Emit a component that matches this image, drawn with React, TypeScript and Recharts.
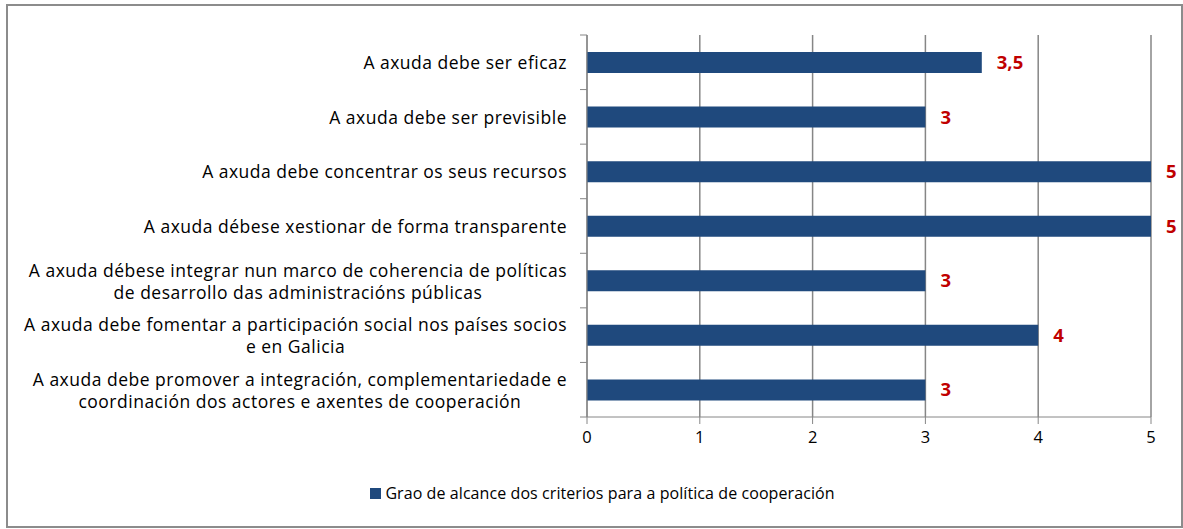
import React from "react";
import { Bar, BarChart, CartesianGrid, LabelList, Legend, XAxis, YAxis } from "recharts";

const criteria = [
  ["A axuda debe ser eficaz"],
  ["A axuda debe ser previsible"],
  ["A axuda debe concentrar os seus recursos"],
  ["A axuda débese xestionar de forma transparente"],
  ["A axuda débese integrar nun marco de coherencia de políticas", "de desarrollo das administracións públicas"],
  ["A axuda debe fomentar a participación social nos países socios", "e en Galicia"],
  ["A axuda debe promover a integración, complementariedade e", "coordinación dos actores e axentes de cooperación"]
];
const scores = [3.5, 3, 5, 5, 3, 4, 3];
const xTicks = [0, 1, 2, 3, 4, 5];
const seriesName = "Grao de alcance dos criterios para a política de cooperación";

const data = criteria.map((lines, i) => ({ name: lines.join("\n"), value: scores[i] }));

const FONT = "'Open Sans', sans-serif";
const BAR = "#1F497D";
const AXIS = "#868686";
const PLOT_H = 382;
const band = PLOT_H / data.length;
const LABEL_SIZE = 17.5;
const LABEL_LS = 0.5;

let ctx: CanvasRenderingContext2D | null = null;
function textWidth(s: string, font: string) {
  if (!ctx) ctx = document.createElement("canvas").getContext("2d");
  if (!ctx) return s.length * 8;
  ctx.font = font;
  return ctx.measureText(s).width + s.length * LABEL_LS;
}

function CriteriaTick(props: any) {
  const { x, y, payload, index } = props;
  const lines = String(payload.value).split("\n");
  const axisX = x + 20;
  const widest = Math.max(...lines.map((l) => textWidth(l, `${LABEL_SIZE}px ${FONT}`)));
  const cx = x - widest / 2;
  const lh = 22;
  const top = y - ((lines.length - 1) * lh) / 2;
  return (
    <g>
      <line x1={axisX - 7} x2={axisX} y1={y - band / 2} y2={y - band / 2} stroke={AXIS} />
      {index === data.length - 1 && (
        <line x1={axisX - 7} x2={axisX} y1={y + band / 2} y2={y + band / 2} stroke={AXIS} />
      )}
      <text
        x={cx}
        y={top}
        textAnchor="middle"
        dominantBaseline="central"
        fill="#000"
        fontSize={LABEL_SIZE}
        fontFamily={FONT}
        letterSpacing={LABEL_LS}
      >
        {lines.map((l, i) => (
          <tspan key={i} x={cx} y={top + i * lh}>
            {l}
          </tspan>
        ))}
      </text>
    </g>
  );
}

function LegendContent() {
  return (
    <div
      style={{
        display: "flex",
        alignItems: "center",
        justifyContent: "center",
        fontFamily: FONT,
        fontSize: 16,
        letterSpacing: 0.08,
        color: "#000"
      }}
    >
      <span style={{ width: 11, height: 11, background: BAR, display: "inline-block", marginRight: 4 }} />
      <span>{seriesName}</span>
    </div>
  );
}

export default function App() {
  return (
    <div
      style={{
        position: "absolute",
        left: 6,
        top: 4,
        width: 1177,
        height: 524,
        border: "2px solid #8c8c8c",
        boxSizing: "border-box",
        background: "#fff"
      }}
    >
      <BarChart
        width={1173}
        height={520}
        data={data}
        layout="vertical"
        margin={{ top: 29, right: 30, bottom: 79, left: 0 }}
        barSize={21}
      >
        <CartesianGrid horizontal={false} stroke={AXIS} strokeWidth={1.5} />
        <XAxis
          type="number"
          domain={[0, 5]}
          ticks={xTicks}
          interval={0}
          height={30}
          stroke={AXIS}
          tickSize={7}
          tickMargin={7}
          tick={{ fill: "#000", fontSize: 16.5, fontFamily: FONT }}
        />
        <YAxis
          type="category"
          dataKey="name"
          width={579}
          stroke={AXIS}
          tickLine={false}
          tickSize={0}
          tickMargin={20}
          interval={0}
          tick={<CriteriaTick />}
        />
        <Legend
          layout="horizontal"
          verticalAlign="middle"
          align="center"
          content={<LegendContent />}
          wrapperStyle={{ top: 476, left: 8, width: 1173 }}
        />
        <Bar dataKey="value" name={seriesName} fill={BAR} isAnimationActive={false}>
          <LabelList
            dataKey="value"
            position="right"
            offset={15}
            formatter={(v: any) => String(v).replace(".", ",")}
            fill="#C00000"
            fontWeight="bold"
            fontSize={18.5}
            fontFamily={FONT}
          />
        </Bar>
      </BarChart>
    </div>
  );
}
